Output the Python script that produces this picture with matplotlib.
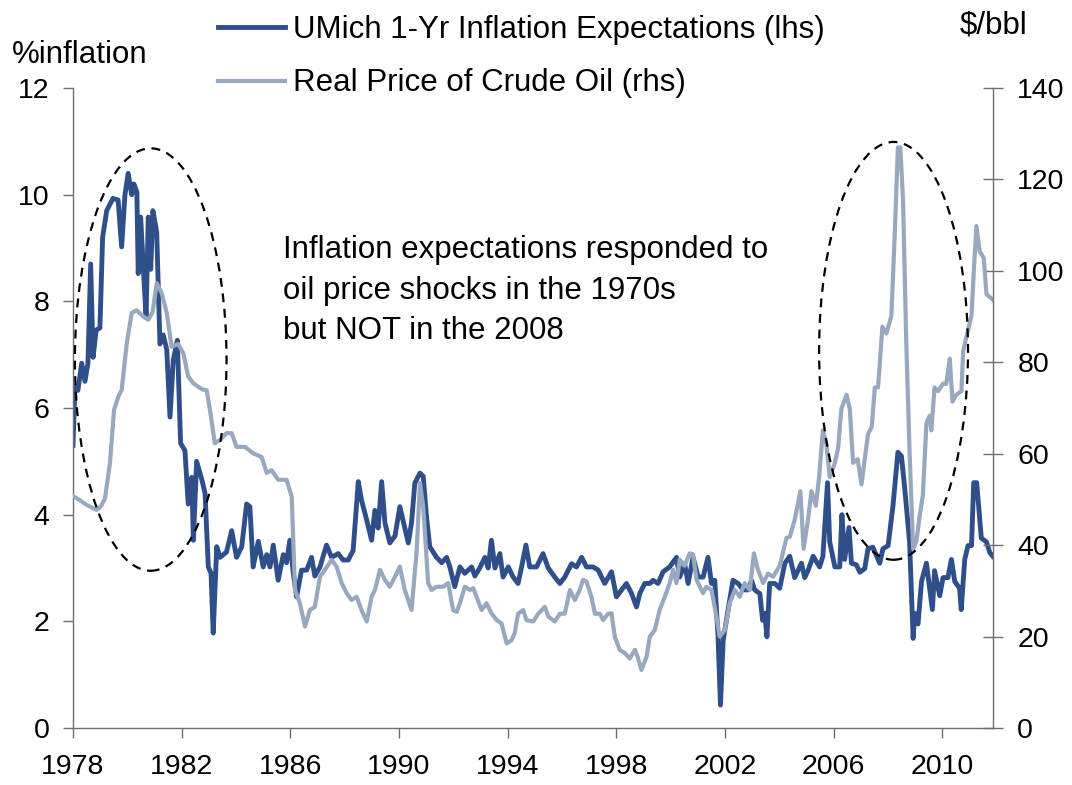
import matplotlib
matplotlib.use('Agg')
import matplotlib.pyplot as plt
from matplotlib.patches import Ellipse
from matplotlib.lines import Line2D

plt.rcParams['font.family'] = ['Liberation Sans', 'DejaVu Sans']

# UMich 1-yr inflation expectations (lhs, %)
infl_t = [1978.00, 1978.07, 1978.18, 1978.32, 1978.44, 1978.55, 1978.65, 1978.74, 1978.85, 1978.99,
          1979.09, 1979.24, 1979.47, 1979.66, 1979.79, 1979.91, 1980.03, 1980.16, 1980.24, 1980.35,
          1980.40, 1980.49, 1980.59, 1980.69, 1980.77, 1980.86, 1980.94, 1981.08, 1981.20, 1981.32,
          1981.45, 1981.57, 1981.69, 1981.84, 1981.96, 1982.12, 1982.24, 1982.37, 1982.43, 1982.55,
          1982.74, 1982.86, 1982.98, 1983.08, 1983.16, 1983.29, 1983.41, 1983.65, 1983.84, 1984.02,
          1984.21, 1984.39, 1984.51, 1984.63, 1984.82, 1985.00, 1985.13, 1985.25, 1985.37, 1985.55,
          1985.74, 1985.86, 1985.98, 1986.11, 1986.23, 1986.41, 1986.60, 1986.78, 1986.90, 1987.09,
          1987.33, 1987.52, 1987.76, 1987.94, 1988.13, 1988.31, 1988.50, 1988.62, 1988.81, 1988.99,
          1989.11, 1989.23, 1989.36, 1989.48, 1989.66, 1989.85, 1990.03, 1990.21, 1990.34, 1990.46,
          1990.58, 1990.77, 1990.89, 1991.01, 1991.13, 1991.38, 1991.57, 1991.75, 1991.87, 1992.05,
          1992.24, 1992.42, 1992.67, 1992.79, 1992.97, 1993.16, 1993.28, 1993.40, 1993.53, 1993.71,
          1993.83, 1994.02, 1994.20, 1994.38, 1994.51, 1994.67, 1994.81, 1995.06, 1995.30, 1995.49,
          1995.73, 1995.92, 1996.10, 1996.35, 1996.53, 1996.72, 1996.90, 1997.14, 1997.33, 1997.57,
          1997.82, 1998.00, 1998.19, 1998.37, 1998.56, 1998.74, 1998.86, 1999.04, 1999.23, 1999.35,
          1999.53, 1999.72, 1999.96, 2000.21, 2000.33, 2000.51, 2000.64, 2000.82, 2001.01, 2001.19,
          2001.37, 2001.50, 2001.62, 2001.74, 2001.83, 2001.93, 2002.11, 2002.29, 2002.48, 2002.66,
          2002.85, 2002.97, 2003.09, 2003.28, 2003.38, 2003.46, 2003.54, 2003.64, 2003.83, 2004.01,
          2004.20, 2004.38, 2004.56, 2004.81, 2004.93, 2005.05, 2005.24, 2005.48, 2005.60, 2005.77,
          2005.85, 2006.04, 2006.22, 2006.30, 2006.40, 2006.56, 2006.65, 2006.83, 2006.96, 2007.14,
          2007.26, 2007.44, 2007.69, 2007.81, 2008.00, 2008.18, 2008.36, 2008.49, 2008.61, 2008.79,
          2008.92, 2008.98, 2009.10, 2009.23, 2009.41, 2009.53, 2009.63, 2009.71, 2009.90, 2010.02,
          2010.20, 2010.33, 2010.45, 2010.63, 2010.69, 2010.82, 2010.94, 2011.07, 2011.15, 2011.26,
          2011.43, 2011.62, 2011.74, 2011.85]
infl_v = [5.3, 6.4, 6.33, 6.84, 6.5, 6.84, 8.7, 6.95, 7.46, 7.5,
          9.2, 9.7, 9.93, 9.9, 9.02, 9.99, 10.4, 10.0, 10.2, 10.05,
          8.52, 9.58, 8.6, 7.7, 9.58, 8.6, 9.7, 9.3, 7.2, 7.37,
          7.1, 5.83, 6.9, 7.27, 5.34, 5.2, 4.2, 4.7, 3.52, 5.0,
          4.66, 4.4, 3.02, 2.9, 1.78, 3.4, 3.2, 3.3, 3.7, 3.2,
          3.4, 4.2, 4.15, 3.02, 3.5, 3.02, 3.25, 3.02, 3.43, 2.77,
          3.25, 3.1, 3.52, 2.9, 2.46, 2.96, 2.96, 3.2, 2.85, 3.02,
          3.43, 3.2, 3.27, 3.15, 3.15, 3.33, 4.62, 4.27, 3.9, 3.52,
          4.08, 3.75, 4.62, 3.85, 3.47, 3.6, 4.15, 3.75, 3.47, 3.85,
          4.59, 4.78, 4.72, 3.96, 3.4, 3.2, 3.1, 3.2, 3.02, 2.65,
          3.02, 2.9, 3.02, 2.85, 3.0, 3.2, 3.0, 3.52, 3.0, 3.27,
          2.83, 3.02, 2.83, 2.71, 3.02, 3.43, 3.02, 3.02, 3.27, 3.0,
          2.83, 2.71, 2.83, 3.08, 3.02, 3.2, 3.02, 3.02, 2.96, 2.71,
          2.93, 2.46, 2.59, 2.71, 2.52, 2.27, 2.52, 2.71, 2.71, 2.77,
          2.71, 2.93, 3.02, 3.2, 2.83, 3.08, 2.71, 3.2, 2.83, 2.83,
          3.2, 2.71, 2.77, 1.71, 0.43, 1.65, 2.21, 2.77, 2.71, 2.59,
          2.59, 2.77, 2.59, 2.52, 2.02, 2.15, 1.71, 2.71, 2.71, 2.62,
          3.09, 3.22, 2.82, 3.09, 2.82, 2.95, 3.22, 3.02, 3.22, 4.6,
          3.49, 3.02, 3.02, 4.0, 3.16, 3.76, 3.09, 3.06, 2.92, 2.99,
          3.36, 3.39, 3.09, 3.36, 3.42, 4.17, 5.17, 5.1, 4.5, 3.49,
          1.68, 2.15, 1.95, 2.75, 3.09, 2.62, 2.22, 2.95, 2.48, 2.82,
          2.82, 3.16, 2.75, 2.62, 2.22, 3.16, 3.42, 3.42, 4.6, 4.6,
          3.56, 3.49, 3.29, 3.22]

# Real price of crude oil (rhs, $/bbl)
oil_t = [1978.04, 1978.26, 1978.50, 1978.87, 1979.03, 1979.18, 1979.36, 1979.51, 1979.67, 1979.79,
         1979.98, 1980.16, 1980.34, 1980.59, 1980.77, 1980.93, 1981.08, 1981.26, 1981.45, 1981.63,
         1981.87, 1982.06, 1982.24, 1982.43, 1982.67, 1982.79, 1982.92, 1983.04, 1983.22, 1983.41,
         1983.65, 1983.84, 1984.02, 1984.33, 1984.63, 1984.94, 1985.13, 1985.31, 1985.55, 1985.86,
         1986.05, 1986.17, 1986.35, 1986.54, 1986.72, 1986.90, 1987.09, 1987.27, 1987.52, 1987.70,
         1987.89, 1988.07, 1988.25, 1988.44, 1988.62, 1988.81, 1988.99, 1989.11, 1989.30, 1989.48,
         1989.66, 1989.85, 1990.03, 1990.21, 1990.46, 1990.65, 1990.77, 1990.89, 1991.07, 1991.20,
         1991.38, 1991.62, 1991.81, 1991.99, 1992.12, 1992.24, 1992.42, 1992.61, 1992.73, 1992.85,
         1993.04, 1993.22, 1993.40, 1993.59, 1993.77, 1993.96, 1994.14, 1994.26, 1994.38, 1994.57,
         1994.69, 1994.94, 1995.12, 1995.37, 1995.49, 1995.73, 1995.92, 1996.10, 1996.29, 1996.47,
         1996.65, 1996.77, 1996.90, 1997.08, 1997.21, 1997.39, 1997.51, 1997.69, 1997.82, 1997.94,
         1998.12, 1998.31, 1998.49, 1998.68, 1998.80, 1998.92, 1999.11, 1999.23, 1999.41, 1999.59,
         1999.78, 1999.96, 2000.09, 2000.21, 2000.33, 2000.51, 2000.70, 2000.82, 2000.95, 2001.19,
         2001.31, 2001.50, 2001.68, 2001.80, 2001.99, 2002.17, 2002.36, 2002.54, 2002.72, 2002.91,
         2003.06, 2003.21, 2003.40, 2003.58, 2003.77, 2004.01, 2004.26, 2004.38, 2004.56, 2004.77,
         2004.89, 2005.05, 2005.18, 2005.34, 2005.46, 2005.60, 2005.73, 2005.85, 2006.04, 2006.16,
         2006.28, 2006.47, 2006.59, 2006.71, 2006.88, 2007.02, 2007.14, 2007.26, 2007.40, 2007.51,
         2007.63, 2007.79, 2007.94, 2008.12, 2008.24, 2008.36, 2008.45, 2008.55, 2008.67, 2008.79,
         2008.92, 2009.04, 2009.16, 2009.28, 2009.41, 2009.53, 2009.59, 2009.71, 2009.84, 2010.02,
         2010.14, 2010.27, 2010.37, 2010.51, 2010.70, 2010.76, 2010.88, 2011.07, 2011.15, 2011.25,
         2011.37, 2011.52, 2011.62, 2011.85]
oil_v = [50.6, 49.8, 48.8, 47.7, 48.5, 50.3, 58, 69.6, 72.5, 73.9,
         84.2, 90.8, 91.4, 90, 89.3, 91, 97.3, 95.2, 90.8, 83.4,
         84, 82, 76.9, 75.4, 74.4, 74, 73.9, 69.6, 62.3, 63,
         64.5, 64.5, 61.5, 61.5, 60.1, 59.3, 55.8, 56.4, 54.3, 54.3,
         50.6, 30.2, 27.3, 22.2, 25.8, 26.5, 33.1, 34.6, 36.8, 35.3,
         31.7, 29.5, 28, 28.7, 25.8, 23.3, 28.7, 30.2, 34.6, 32.4,
         30.9, 33.1, 35.3, 30.2, 25.8, 38.9, 53.6, 48.4, 31.7, 30.2,
         30.9, 30.9, 31.7, 25.8, 25.4, 27.3, 30.9, 30.2, 30.6, 28.7,
         25.8, 27.3, 25.1, 23.6, 22.9, 18.5, 19.2, 20.8, 25, 25.8,
         23.6, 23.3, 25, 26.5, 24.4, 23.3, 25, 25, 30.2, 28,
         30.2, 32.4, 32, 28.7, 25, 25, 23.6, 25, 25.1, 20,
         17.1, 16.4, 15.2, 17.1, 15.2, 12.7, 15.6, 20, 21.4, 25.8,
         28.7, 31.7, 34.6, 31.7, 36.8, 35.5, 38.2, 38, 32.4, 29.5,
         30.9, 30.2, 24.4, 20, 21.4, 27.3, 30.2, 28.7, 31.7, 30.2,
         38.2, 34.6, 31.7, 33.8, 33.1, 35.5, 41.6, 41.8, 45.5, 51.8,
         39.2, 45.5, 51.8, 48.6, 54.9, 65.1, 62, 54.9, 58, 61.2,
         69.8, 72.9, 69.8, 58, 58.8, 53.3, 58.8, 64.3, 65.9, 74.5,
         74.5, 87.8, 86.3, 90.2, 107.4, 127, 127, 115.3, 83.9, 60.4,
         39.2, 40.8, 46.3, 51, 66.7, 68.3, 65.1, 74.5, 73.7, 75.3,
         75.3, 80.8, 71.4, 72.9, 73.7, 82.4, 85.5, 90.2, 99.6, 109.8,
         104.3, 102.8, 94.9, 93.7]

x_ticks = [1978, 1982, 1986, 1990, 1994, 1998, 2002, 2006, 2010]
left_ticks = [0, 2, 4, 6, 8, 10, 12]
right_ticks = [0, 20, 40, 60, 80, 100, 120, 140]

blue = '#2F4F8B'
grey = '#98A8BF'
spine_c = '#6E6E6E'
fs_tick = 20.5
fs = 22.5

fig = plt.figure(figsize=(10.72, 7.85), dpi=100)
ax = fig.add_axes([0.0681, 0.0726, 0.8582, 0.8153])
ax2 = ax.twinx()

ax.plot(infl_t, infl_v, color=blue, lw=3.5, solid_joinstyle='round')
ax2.plot(oil_t, oil_v, color=grey, lw=3.0, solid_joinstyle='round')

ax.set_xlim(1978, 2011.86)
ax.set_ylim(0, 12)
ax2.set_ylim(0, 140)
ax.set_xticks(x_ticks)
ax.set_yticks(left_ticks)
ax2.set_yticks(right_ticks)

for a in (ax, ax2):
    a.spines['top'].set_visible(False)
    for s in a.spines.values():
        s.set_color(spine_c)
        s.set_linewidth(1.0)
ax.spines['right'].set_visible(False)
ax2.spines['left'].set_visible(False)
ax2.spines['bottom'].set_visible(False)

ax.tick_params(axis='y', direction='out', length=7, width=1, color=spine_c,
               labelsize=fs_tick, pad=10)
ax.tick_params(axis='x', direction='out', length=7, width=1, color=spine_c,
               labelsize=fs_tick, pad=12)
ax2.tick_params(axis='y', direction='inout', length=15, width=1, color=spine_c,
                labelsize=fs_tick, pad=10)

# dashed ellipses around the two oil shocks (drawn in rhs units)
for cx, cy, w, h in [(1980.86, 80.6, 5.58, 92.4), (2008.20, 82.5, 5.48, 91.4)]:
    ax2.add_patch(Ellipse((cx, cy), w, h, fill=False, edgecolor='black',
                          lw=1.6, linestyle=(0, (4, 3)), zorder=5))

ax2.text(0.228, 0.770, 'Inflation expectations responded to\noil price shocks in the 1970s\nbut NOT in the 2008',
         transform=ax.transAxes, fontsize=fs, va='top', ha='left', linespacing=1.45)

fig.text(12 / 1072, 1 - 55 / 785, '%inflation', fontsize=fs, va='center', ha='left')
fig.text(960 / 1072, 1 - 25 / 785, '$/bbl', fontsize=fs, va='center', ha='left')

handles = [Line2D([], [], color=blue, lw=3.5), Line2D([], [], color=grey, lw=3.0)]
fig.legend(handles, ['UMich 1-Yr Inflation Expectations (lhs)', 'Real Price of Crude Oil (rhs)'],
           loc='upper left', bbox_to_anchor=(218 / 1072, 1 - 15 / 785), frameon=False,
           fontsize=fs, handlelength=2.14, handletextpad=0.26, borderpad=0, borderaxespad=0,
           labelspacing=0.75)

fig.savefig('out.png', dpi=100)
